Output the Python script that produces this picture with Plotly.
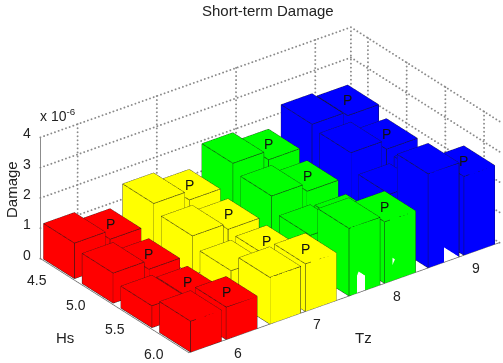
import math
import plotly.graph_objects as go

title = "Short-term Damage"
tz_ticks = [6, 7, 8, 9]
hs_ticks = [4.5, 5.0, 5.5, 6.0]
hs_labels = ["4.5", "5.0", "5.5", "6.0"]
z_ticks = [0, 1, 2, 3, 4]
colors = ["#ff0000", "#ffff00", "#00ff00", "#0000ff"]

# Damage (x 1e-6): rows follow hs_ticks, one list per Tz; plain bar and "P" bar
plain_6 = [1.17, 0.99, 0.72, 1.02]
p_6 = [0.88, 0.70, 0.60, 1.07]
plain_7 = [1.55, 1.29, 0.95, 1.54]
p_7 = [1.25, 1.09, 1.02, 1.57]
plain_8 = [1.95, 1.68, 1.19, 2.23]
p_8 = [1.65, 1.42, 1.12, 2.03]
plain_9 = [2.31, 2.18, 1.62, 3.10]
p_9 = [2.18, 1.88, 1.80, 2.60]
plain = [plain_6, plain_7, plain_8, plain_9]
pbars = [p_6, p_7, p_8, p_9]
# P letters hidden behind nearer bars in the reference: (tz index, hs index)
hidden_p = {(2, 2), (3, 2)}

X0, X1 = 5.53, 9.45
Y0, Y1 = -6.2, -4.28
BW, BD = 0.39, 0.2
GRID = "#8a8a8a"
AXC = "#666666"
FONT = "Liberation Sans, Arial, sans-serif"
TXT = "#222222"

# camera
EL = math.radians(28.3)
AZ = math.radians(233.2)
EYE_K = 2.0
ZOOM = 1.367
S = 182.0
dx_px, dy_px = -18.5, 8.5
aspect = dict(x=1.563*ZOOM, y=1.0*ZOOM, z=0.555*ZOOM)
ev = [math.cos(EL)*math.cos(AZ), math.cos(EL)*math.sin(AZ), math.sin(EL)]
r = [-math.sin(AZ), math.cos(AZ), 0]
u = [-math.sin(EL)*math.cos(AZ), -math.sin(EL)*math.sin(AZ), math.cos(EL)]
c = [(dx_px*r[i] + dy_px*u[i])/S for i in range(3)]
camera = dict(
    eye=dict(x=EYE_K*ev[0]+c[0], y=EYE_K*ev[1]+c[1], z=EYE_K*ev[2]+c[2]),
    center=dict(x=c[0], y=c[1], z=c[2]),
    up=dict(x=0, y=0, z=1),
    projection=dict(type="orthographic"),
)

fig = go.Figure()


def polyline(pts, color, width):
    fig.add_trace(go.Scatter3d(x=[p[0] for p in pts], y=[p[1] for p in pts], z=[p[2] for p in pts],
                               mode="lines", line=dict(color=color, width=width),
                               hoverinfo="skip", showlegend=False))


def box(x0, y0, h, xs, ys, zs, ii, jj, kk):
    x1, y1 = x0 + BW, y0 + 2*BD
    b = len(xs)
    for (a, e) in [(x0, y0), (x1, y0), (x1, y1), (x0, y1)]:
        xs += [a, a]; ys += [e, e]; zs += [0, h]
    q = [(0, 2, 3, 1), (2, 4, 5, 3), (4, 6, 7, 5), (6, 0, 1, 7), (1, 3, 5, 7)]
    for (p, o, m, n) in q:
        ii += [b+p, b+p]; jj += [b+o, b+m]; kk += [b+m, b+n]
    polyline([(x0, y0, h), (x1, y0, h), (x1, y1, h), (x0, y1, h), (x0, y0, h), (x0, y0, 0), (x1, y0, 0),
              (x1, y0, h), (x1, y0, 0), (x0, y0, 0), (x0, y1, 0), (x0, y1, h)], "#1a1a1a", 1.2)


annos = []
for t, tz in enumerate(tz_ticks):
    xs, ys, zs, ii, jj, kk = [], [], [], [], [], []
    for h, hs in enumerate(hs_ticks):
        yc = -hs
        box(tz - 0.45, yc - BD, plain[t][h], xs, ys, zs, ii, jj, kk)
        box(tz + 0.0, yc - BD, pbars[t][h], xs, ys, zs, ii, jj, kk)
        if (t, h) not in hidden_p:
            annos.append(dict(x=tz + BW/2, y=yc, z=pbars[t][h], text="P", showarrow=False,
                              font=dict(family=FONT, size=14, color="#111111")))
    fig.add_trace(go.Mesh3d(x=xs, y=ys, z=zs, i=ii, j=jj, k=kk, color=colors[t], flatshading=True,
                            lighting=dict(ambient=1, diffuse=0, specular=0, roughness=0.5, fresnel=0.2),
                            hoverinfo="skip", showscale=False))

# dotted walls: little round dots spaced along each grid line
gx, gy, gz = [], [], []


def dots(a, b, n):
    for i in range(n + 1):
        f = i / n
        gx.append(a[0] + (b[0]-a[0])*f); gy.append(a[1] + (b[1]-a[1])*f); gz.append(a[2] + (b[2]-a[2])*f)


for z in z_ticks[1:]:
    dots((X0, Y1, z), (X1, Y1, z), 85)
    dots((X1, Y1, z), (X1, Y0, z), 46)
for tz in tz_ticks:
    dots((tz, Y1, 0), (tz, Y1, z_ticks[-1]), 30)
for hs in hs_ticks:
    dots((X1, -hs, 0), (X1, -hs, z_ticks[-1]), 30)
dots((X1, Y1, 0), (X1, Y1, z_ticks[-1]), 30)
dots((X0, Y1, 0), (X1, Y1, 0), 85)
dots((X1, Y1, 0), (X1, Y0, 0), 46)
fig.add_trace(go.Scatter3d(x=gx, y=gy, z=gz, mode="markers",
                           marker=dict(color=GRID, size=1.1, line=dict(width=0)),
                           hoverinfo="skip", showlegend=False))

# axes with ticks
polyline([(X0, Y1, z_ticks[-1]), (X0, Y1, 0), (X0, Y0, 0), (X1, Y0, 0)], AXC, 1.5)
for z in z_ticks:
    polyline([(X0, Y1, z), (X0 - 0.09, Y1, z)], AXC, 1.5)
    annos.append(dict(x=X0, y=Y1, z=z, text=str(z), showarrow=False, xshift=-13, yshift=4,
                      font=dict(family=FONT, size=14, color=TXT)))
for hs, lab in zip(hs_ticks, hs_labels):
    polyline([(X0, -hs, 0), (X0 - 0.09, -hs, 0)], AXC, 1.5)
    annos.append(dict(x=X0, y=-hs, z=0, text=lab, showarrow=False, xshift=-20, yshift=-11,
                      font=dict(family=FONT, size=14, color=TXT)))
for tz in tz_ticks:
    polyline([(tz, Y0, 0), (tz, Y0 - 0.18, 0)], AXC, 1.5)
    annos.append(dict(x=tz, y=Y0, z=0, text=str(tz), showarrow=False, xshift=12, yshift=-13,
                      font=dict(family=FONT, size=14, color=TXT)))
annos.append(dict(x=X0, y=Y1, z=z_ticks[-1], text="x 10<sup>-6</sup>", showarrow=False, xshift=18, yshift=22,
                  font=dict(family=FONT, size=14, color=TXT)))

hidden = dict(visible=False, showspikes=False)
W, H = 503, 363
fig.update_layout(
    width=W, height=H, autosize=False, margin=dict(l=0, r=0, t=0, b=0),
    paper_bgcolor="white", showlegend=False,
    scene=dict(
        domain=dict(x=[0, 1], y=[0, 1]),
        xaxis=dict(range=[X0, X1], **hidden),
        yaxis=dict(range=[Y0, Y1], **hidden),
        zaxis=dict(range=[z_ticks[0], z_ticks[-1]], **hidden),
        aspectmode="manual", aspectratio=aspect, camera=camera, annotations=annos,
        bgcolor="white",
    ),
    annotations=[
        dict(text=title, x=268/W, y=1-11/H, xref="paper", yref="paper", showarrow=False, xanchor="center", yanchor="middle",
             font=dict(family=FONT, size=15, color=TXT)),
        dict(text="Damage", x=12/W, y=1-190/H, xref="paper", yref="paper", showarrow=False, textangle=-90, xanchor="center", yanchor="middle",
             font=dict(family=FONT, size=15, color=TXT)),
        dict(text="Hs", x=65/W, y=1-337/H, xref="paper", yref="paper", showarrow=False, xanchor="center", yanchor="middle",
             font=dict(family=FONT, size=15, color=TXT)),
        dict(text="Tz", x=363/W, y=1-337/H, xref="paper", yref="paper", showarrow=False, xanchor="center", yanchor="middle",
             font=dict(family=FONT, size=15, color=TXT)),
    ],
)
fig.write_html("out.html", config=dict(displayModeBar=False),
               post_script="document.body.style.margin='0';")
